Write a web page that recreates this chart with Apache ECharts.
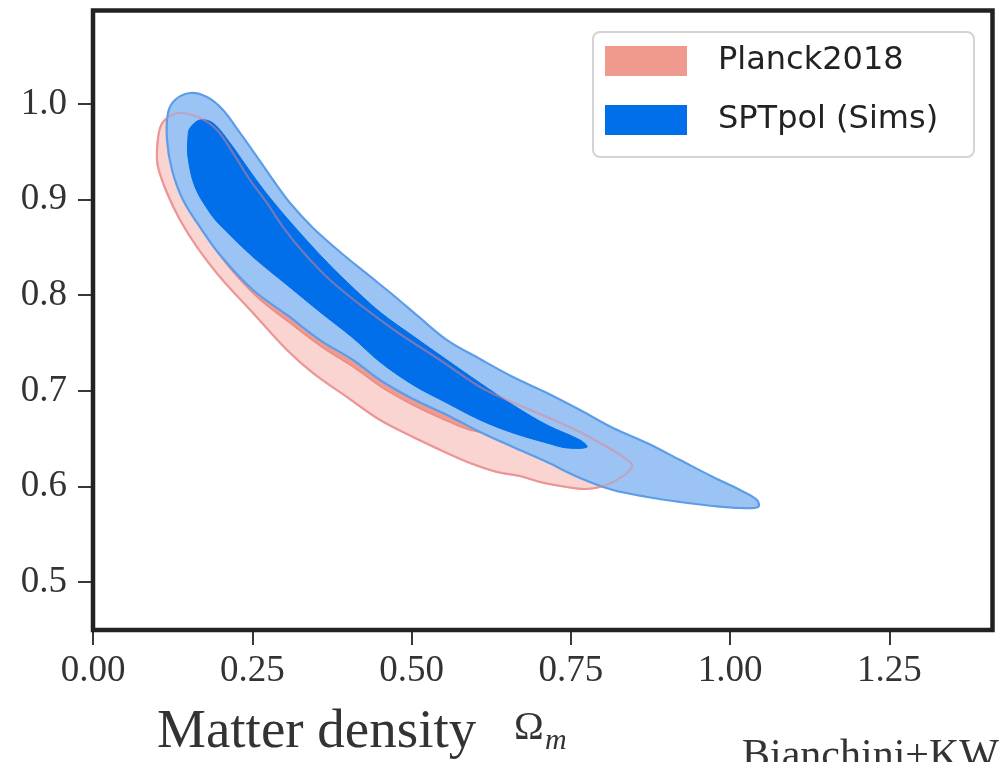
<!DOCTYPE html>
<html>
<head>
<meta charset="utf-8">
<script src="https://cdn.jsdelivr.net/npm/echarts@6/dist/echarts.min.js"></script>
<style>
html,body{margin:0;padding:0;background:#fff;}
#chart{width:1003px;height:762px;}
</style>
</head>
<body>
<div id="chart"></div>
<script>
// ---- data (Omega_m, y) ----
const xTicks = [0, 0.25, 0.5, 0.75, 1.0, 1.25];
const yTicks = [0.5, 0.6, 0.7, 0.8, 0.9, 1.0];
const seriesNames = ['Planck2018', 'SPTpol (Sims)'];

// Planck2018 95% contour
const planck2sigma = [[0.1005,0.9519],[0.1052,0.9749],[0.1162,0.9854],[0.1366,0.9906],[0.1680,0.9854],[0.1947,0.9728],[0.2198,0.9487],[0.2465,0.9205],[0.2732,0.8964],[0.2983,0.8713],[0.3297,0.8452],[0.3721,0.8159],[0.4239,0.7877],[0.4772,0.7615],[0.5447,0.7322],[0.6075,0.7040],[0.6499,0.6904],[0.7127,0.6726],[0.7645,0.6569],[0.8069,0.6412],[0.8320,0.6308],[0.8462,0.6224],[0.8383,0.6140],[0.8163,0.6046],[0.7959,0.5994],[0.7724,0.5973],[0.7441,0.5994],[0.7017,0.6046],[0.6703,0.6109],[0.6342,0.6151],[0.5918,0.6245],[0.5557,0.6349],[0.5024,0.6517],[0.4505,0.6695],[0.3987,0.6935],[0.3454,0.7186],[0.3046,0.7427],[0.2512,0.7814],[0.1994,0.8190],[0.1633,0.8504],[0.1366,0.8787],[0.1162,0.9069],[0.1020,0.9341]];
// Planck2018 68% contour
const planck1sigma = [[0.1334,0.9519],[0.1366,0.9205],[0.1523,0.8944],[0.1758,0.8661],[0.2072,0.8347],[0.2575,0.7981],[0.3093,0.7709],[0.3595,0.7458],[0.4113,0.7238],[0.4553,0.7029],[0.5055,0.6841],[0.5526,0.6695],[0.5918,0.6590],[0.6232,0.6569],[0.6389,0.6611],[0.5918,0.6851],[0.5447,0.7061],[0.4819,0.7322],[0.4035,0.7741],[0.3250,0.8264],[0.2622,0.8787],[0.2151,0.9310],[0.1837,0.9623],[0.1601,0.9728],[0.1413,0.9676]];
// SPTpol 95% contour
const spt2sigma = [[0.1523,1.0115],[0.1790,1.0073],[0.2041,0.9937],[0.2308,0.9697],[0.2575,0.9446],[0.2826,0.9205],[0.3093,0.8964],[0.3454,0.8703],[0.3878,0.8452],[0.4301,0.8222],[0.4710,0.8002],[0.5133,0.7762],[0.5557,0.7531],[0.6075,0.7333],[0.6593,0.7144],[0.7127,0.6977],[0.7645,0.6799],[0.8163,0.6611],[0.8697,0.6454],[0.9215,0.6276],[0.9733,0.6098],[1.0157,0.5962],[1.0424,0.5858],[1.0440,0.5785],[1.0157,0.5774],[0.9733,0.5795],[0.9215,0.5837],[0.8697,0.5889],[0.8163,0.5962],[0.7645,0.6088],[0.7127,0.6255],[0.6593,0.6412],[0.6075,0.6569],[0.5557,0.6747],[0.5024,0.6914],[0.4505,0.7113],[0.4082,0.7322],[0.3564,0.7531],[0.3046,0.7793],[0.2512,0.8054],[0.1994,0.8421],[0.1680,0.8713],[0.1413,0.8996],[0.1240,0.9310],[0.1162,0.9623],[0.1177,0.9906],[0.1287,1.0042]];
// SPTpol 68% contour
const spt1sigma = [[0.1680,0.9833],[0.1884,0.9801],[0.2151,0.9592],[0.2418,0.9341],[0.2669,0.9111],[0.2936,0.8891],[0.3250,0.8651],[0.3595,0.8400],[0.3987,0.8138],[0.4505,0.7824],[0.5024,0.7573],[0.5557,0.7322],[0.6075,0.7082],[0.6593,0.6851],[0.7127,0.6642],[0.7645,0.6485],[0.7755,0.6412],[0.7441,0.6402],[0.7127,0.6454],[0.6593,0.6559],[0.6075,0.6695],[0.5557,0.6872],[0.5024,0.7061],[0.4505,0.7301],[0.4082,0.7552],[0.3564,0.7824],[0.3046,0.8107],[0.2512,0.8400],[0.1994,0.8734],[0.1837,0.8860],[0.1601,0.9132],[0.1491,0.9446],[0.1491,0.9655],[0.1523,0.9749]];

// ---- styles ----
const planckStyles = [
  {fill:'#f9d4d1', stroke:'#f2a9a2', lineWidth:2},
  {fill:'#f0998e', stroke:'#ec8c81', lineWidth:1.5}
];
const sptStyles = [
  {fill:'#9bc4f5', stroke:'#5b9de9', lineWidth:2.2},
  {fill:'#006fe9', stroke:'#006fe9', lineWidth:1}
];

function polyRenderer(levels, styles) {
  return function (params, api) {
    const pts = levels[params.dataIndex].map(p => api.coord(p));
    return {
      type: 'polygon',
      shape: {points: pts, smooth: 0.35},
      style: styles[params.dataIndex]
    };
  };
}

const chart = echarts.init(document.getElementById('chart'), null, {renderer:'canvas'});
const serif = 'Liberation Serif';
chart.setOption({
  animation: false,
  backgroundColor: '#fff',
  grid: {left: 93, right: 10.5, top: 10.5, bottom: 132, show: true, borderColor: '#222', borderWidth: 4.5, backgroundColor: 'transparent', z: 5},
  xAxis: {
    type: 'value', min: 0, max: 1.412,
    axisLine: {show: false},
    splitLine: {show: false},
    axisTick: {show: true, inside: false, length: 15, lineStyle: {color: '#222', width: 1.8}, customValues: xTicks},
    axisLabel: {customValues: xTicks, formatter: v => v.toFixed(2), fontFamily: serif, fontSize: 37, color: '#333', margin: 23}
  },
  yAxis: {
    type: 'value', min: 0.4498, max: 1.0978,
    axisLine: {show: false},
    splitLine: {show: false},
    axisTick: {show: true, inside: false, length: 15, lineStyle: {color: '#222', width: 1.8}, customValues: yTicks},
    axisLabel: {customValues: yTicks, formatter: v => v.toFixed(1), fontFamily: serif, fontSize: 37, color: '#333', margin: 26}
  },
  legend: {
    data: seriesNames,
    orient: 'vertical',
    left: 592, top: 31,
    padding: [14, 10, 14, 13],
    itemWidth: 82, itemHeight: 30, itemGap: 27,
    icon: 'rect',
    z: 20,
    textStyle: {fontFamily: 'DejaVu Sans', fontSize: 32, color: '#222', padding: [0,0,0,26], lineHeight: 30}
  },
  graphic: [
    {type: 'rect', left: 592, top: 31, z: 15, shape: {width: 381, height: 125, r: 7},
     style: {fill: 'rgba(255,255,255,0.85)', stroke: '#d4d4d4', lineWidth: 2}},
    {type: 'text', left: 157, top: 705, z: 10, style: {text: 'Matter density', font: '55px "Liberation Serif"', fill: '#333'}},
    {type: 'text', left: 514, top: 708, z: 10, style: {text: 'Ω', font: '40px "Liberation Serif"', fill: '#333'}},
    {type: 'text', left: 545, top: 726, z: 10, style: {text: 'm', font: 'italic 30px "Liberation Serif"', fill: '#333'}},
    {type: 'text', left: 742, top: 736, z: 10, style: {text: 'Bianchini+KW', font: '42px "Liberation Serif"', fill: '#333'}}
  ],
  series: [
    {name: seriesNames[0], type: 'custom', coordinateSystem: 'cartesian2d', z: 2,
     itemStyle: {color: '#f0998e'}, data: [0, 1], renderItem: polyRenderer([planck2sigma, planck1sigma], planckStyles)},
    {name: seriesNames[1], type: 'custom', coordinateSystem: 'cartesian2d', z: 3,
     itemStyle: {color: '#006fe9'}, data: [0, 1], renderItem: polyRenderer([spt2sigma, spt1sigma], sptStyles)},
    {name: 'planck-outline', type: 'custom', coordinateSystem: 'cartesian2d', z: 4, silent: true,
     data: [0], renderItem: polyRenderer([planck2sigma], [{fill: 'none', stroke: 'rgba(230,130,140,0.5)', lineWidth: 2.2}])}
  ]
});
</script>
</body>
</html>
